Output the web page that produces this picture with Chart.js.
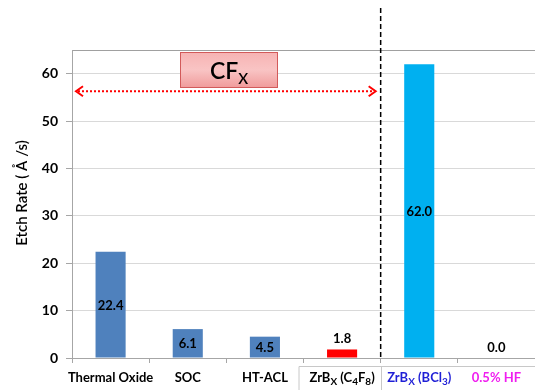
<!DOCTYPE html>
<html>
<head>
<meta charset="utf-8">
<script src="https://cdn.jsdelivr.net/npm/chart.js@4/dist/chart.umd.min.js"></script>
<style>
  html, body { margin: 0; padding: 0; background: #fff; }
  #wrap { width: 535px; height: 390px; position: relative; }
</style>
</head>
<body>
<div id="wrap"><canvas id="c" width="535" height="390"></canvas></div>
<script>
// Etch rates per film / process
const categories = ['Thermal Oxide', 'SOC', 'HT-ACL', 'ZrBX (C4F8)', 'ZrBX (BCl3)', '0.5% HF'];
const etchRates = [22.4, 6.1, 4.5, 1.8, 62.0, 0.0];
const yTicks = [0, 10, 20, 30, 40, 50, 60];
const yTitle = 'Etch Rate ( Å /s)';

// Styling
const barColors = ['#4F81BD', '#4F81BD', '#4F81BD', '#FF0000', '#00B0F0', '#00B0F0'];
const FONT = 'Lato, "Open Sans", sans-serif';

// Rich category labels (subscripts drawn as smaller, lowered text)
const richLabels = [
  { color: '#000', parts: [['Thermal Oxide']] },
  { color: '#000', parts: [['SOC']] },
  { color: '#000', parts: [['HT-ACL']] },
  { color: '#000', parts: [['ZrB'], ['X', 1], [' (C'], ['4', 1], ['F'], ['8', 1], [')']] },
  { color: '#1f1fd6', parts: [['ZrB'], ['X', 1], [' (BCl'], ['3', 1], [')']] },
  { color: '#f01ef0', parts: [['0.5% HF']] }
];

function drawRich(ctx, parts, cx, y, size, color) {
  const main = 'bold ' + size + 'px ' + FONT;
  const sub = 'bold ' + Math.round(size * 0.75) + 'px ' + FONT;
  let w = 0;
  parts.forEach(p => { ctx.font = p[1] ? sub : main; w += ctx.measureText(p[0]).width; });
  let x = cx - w / 2;
  ctx.fillStyle = color;
  ctx.textAlign = 'left';
  ctx.textBaseline = 'alphabetic';
  parts.forEach(p => {
    ctx.font = p[1] ? sub : main;
    ctx.fillText(p[0], x, p[1] ? y + 3 : y);
    x += ctx.measureText(p[0]).width;
  });
}

const decorations = {
  id: 'decorations',
  afterDatasetsDraw(chart) {
    const ctx = chart.ctx;
    const xs = chart.scales.x, ys = chart.scales.y;
    const meta = chart.getDatasetMeta(0);

    // value labels
    ctx.save();
    ctx.font = 'bold 13px ' + FONT;
    ctx.fillStyle = '#000';
    ctx.textAlign = 'center';
    meta.data.forEach((bar, i) => {
      const h = bar.base - bar.y;
      const txt = etchRates[i].toFixed(1);
      if (h > 15) {
        ctx.textBaseline = 'middle';
        ctx.fillText(txt, bar.x, (bar.y + bar.base) / 2 + 1);
      } else {
        ctx.textBaseline = 'alphabetic';
        ctx.fillText(txt, bar.x, bar.y - 6);
      }
    });
    ctx.restore();

    // y-axis title, centred on the canvas height
    ctx.save();
    ctx.translate(22, chart.height / 2 - 2);
    ctx.rotate(-Math.PI / 2);
    ctx.font = '600 15px ' + FONT;
    ctx.fillStyle = '#000';
    ctx.textAlign = 'center';
    ctx.textBaseline = 'middle';
    ctx.fillText(yTitle, 0, 0);
    ctx.restore();

    // separator between plasma chemistries
    const sepX = (xs.getPixelForValue(3) + xs.getPixelForValue(4)) / 2;
    ctx.save();
    ctx.strokeStyle = '#000';
    ctx.lineWidth = 1.5;
    ctx.setLineDash([5, 3]);
    ctx.beginPath();
    ctx.moveTo(sepX, 8);
    ctx.lineTo(sepX, ys.bottom);
    ctx.stroke();
    ctx.restore();

    // label frame beneath the last three categories
    const boxL = (xs.getPixelForValue(2) + xs.getPixelForValue(3)) / 2 - 5;
    ctx.save();
    ctx.strokeStyle = '#c8c8c8';
    ctx.lineWidth = 1;
    ctx.beginPath();
    ctx.moveTo(boxL + 0.5, 390);
    ctx.lineTo(boxL + 0.5, 366.5);
    ctx.lineTo(chart.width, 366.5);
    ctx.moveTo(Math.round(sepX) + 0.5, 366);
    ctx.lineTo(Math.round(sepX) + 0.5, 390);
    ctx.stroke();
    ctx.restore();

    // category labels
    ctx.save();
    richLabels.forEach((lab, i) => {
      drawRich(ctx, lab.parts, xs.getPixelForValue(i), 382, 13, lab.color);
    });
    ctx.restore();

    // CFx dotted double arrow
    const ay = ys.getPixelForValue(56.3);
    const ax1 = xs.left + 4, ax2 = sepX - 5;
    ctx.save();
    ctx.strokeStyle = '#ff0000';
    ctx.lineWidth = 2;
    ctx.setLineDash([2, 2]);
    ctx.beginPath();
    ctx.moveTo(ax1 + 2, ay);
    ctx.lineTo(ax2 - 2, ay);
    ctx.stroke();
    ctx.setLineDash([]);
    ctx.beginPath();
    ctx.moveTo(ax1 + 7, ay - 5);
    ctx.lineTo(ax1, ay);
    ctx.lineTo(ax1 + 7, ay + 5);
    ctx.moveTo(ax2 - 7, ay - 5);
    ctx.lineTo(ax2, ay);
    ctx.lineTo(ax2 - 7, ay + 5);
    ctx.stroke();
    ctx.restore();

    // CFx badge
    const bx = 180, by = 52, bw = 98, bh = 36;
    ctx.save();
    const g = ctx.createLinearGradient(0, by, 0, by + bh);
    g.addColorStop(0, '#f7b3b3');
    g.addColorStop(0.5, '#f9c4c4');
    g.addColorStop(1, '#f09a9a');
    ctx.fillStyle = g;
    ctx.fillRect(bx, by, bw, bh);
    ctx.strokeStyle = '#d25a5a';
    ctx.lineWidth = 1;
    ctx.strokeRect(bx + 0.5, by + 0.5, bw - 1, bh - 1);
    ctx.fillStyle = '#000';
    ctx.textBaseline = 'alphabetic';
    ctx.textAlign = 'left';
    ctx.font = '600 23px ' + FONT;
    const w1 = ctx.measureText('CF').width;
    ctx.font = '600 15px ' + FONT;
    const w2 = ctx.measureText('X').width;
    let tx = bx + bw / 2 - (w1 + w2) / 2;
    ctx.font = '600 23px ' + FONT;
    ctx.fillText('CF', tx, by + 27);
    ctx.font = '600 15px ' + FONT;
    ctx.fillText('X', tx + w1, by + 32);
    ctx.restore();
  }
};

new Chart(document.getElementById('c'), {
  type: 'bar',
  data: {
    labels: categories,
    datasets: [{
      data: etchRates,
      backgroundColor: barColors,
      borderWidth: 0,
      categoryPercentage: 1,
      barPercentage: 0.39
    }]
  },
  options: {
    responsive: false,
    animation: false,
    layout: { padding: { top: 50, left: 0, right: 0, bottom: 0 } },
    plugins: { legend: { display: false }, tooltip: { enabled: false } },
    scales: {
      x: {
        grid: {
          offset: true,
          drawOnChartArea: false,
          color: '#a6a6a6',
          tickLength: 5
        },
        border: { color: '#a6a6a6' },
        ticks: { callback: () => '' },
        afterFit(s) { s.height = 32; }
      },
      y: {
        min: 0,
        max: 65,
        ticks: {
          stepSize: 10,
          padding: 8,
          color: '#000',
          font: { family: FONT, size: 14, weight: 'bold' },
          callback: v => (yTicks.includes(v) ? v : '')
        },
        grid: {
          color: c => (c.tick && c.tick.value === 65 ? '#a0a0a0' : '#d9d9d9'),
          tickColor: c => (c.tick && c.tick.value === 65 ? 'rgba(0,0,0,0)' : '#a6a6a6'),
          tickLength: 6
        },
        border: { color: '#a6a6a6' },
        title: { display: false },
        afterFit(s) { s.width = 72; }
      }
    }
  },
  plugins: [decorations]
});
</script>
</body>
</html>
